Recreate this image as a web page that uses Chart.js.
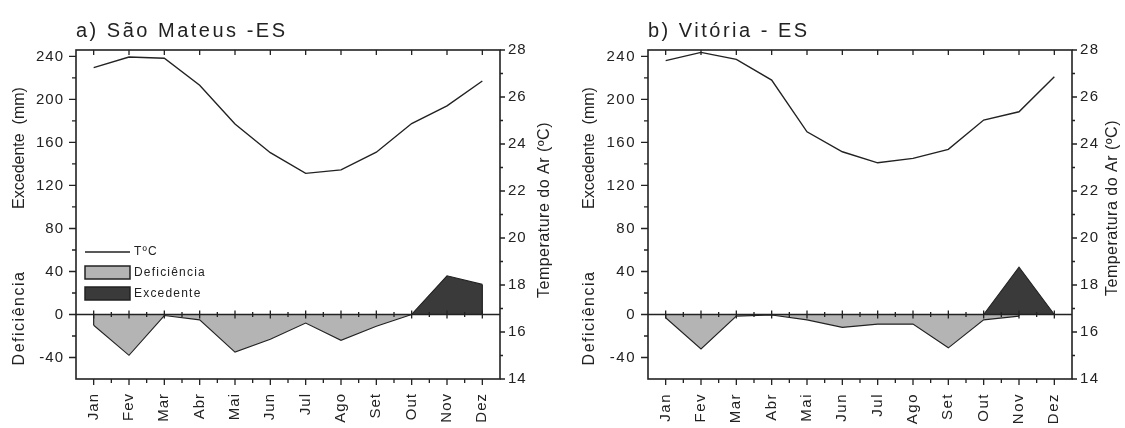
<!DOCTYPE html>
<html>
<head>
<meta charset="utf-8">
<script src="https://cdn.jsdelivr.net/npm/chart.js@4.4.1/dist/chart.umd.min.js"></script>
<style>
  body { margin: 0; background: #fff; width: 1125px; height: 428px; position: relative; overflow: hidden;
         font-family: 'Liberation Sans', Arial, sans-serif; }
  .panel { position: absolute; top: 0; height: 428px; }
  .ttl { position: absolute; top: 20px; font-size: 20px; line-height: 20px; letter-spacing: 2.5px;
         color: #222; white-space: nowrap; }
</style>
</head>
<body>
<div class="panel" style="left:0;width:562px">
  <canvas id="chartA" width="562" height="428"></canvas>
  <div class="ttl" style="left:76px">a) São Mateus -ES</div>
</div>
<div class="panel" style="left:562px;width:563px">
  <canvas id="chartB" width="563" height="428"></canvas>
  <div class="ttl" style="left:86px">b) Vitória - ES</div>
</div>
<script>
// === Balanço hídrico: São Mateus e Vitória ===
const months = ['Jan', 'Fev', 'Mar', 'Abr', 'Mai', 'Jun', 'Jul', 'Ago', 'Set', 'Out', 'Nov', 'Dez'];

// São Mateus - ES
const tempSM = [27.25, 27.7, 27.65, 26.5, 24.85, 23.63, 22.75, 22.9, 23.65, 24.87, 25.62, 26.68];
const defSM  = [-10, -38, -1, -5, -35, -23, -8, -24, -11, 0, null, null];
const excSM  = [null, null, null, null, null, null, null, null, null, 0, 36, 28];

// Vitória - ES
const tempVI = [27.55, 27.9, 27.6, 26.72, 24.52, 23.67, 23.2, 23.39, 23.77, 25.02, 25.37, 26.86];
const defVI  = [-3, -32, -1.5, -0.5, -5, -12, -9, -9, -31, -5, -1.5, null];
const excVI  = [null, null, null, null, null, null, null, null, null, 0, 44, 0];

// eixos
const leftMin = -60, leftMax = 246, leftStep = 40;
const tempMin = 14, tempMax = 28, tempStep = 2;

const INK = '#222';
const LIGHT = '#b4b4b4';
const DARK = '#3a3a3a';
const FONT = "'Liberation Sans', Arial, sans-serif";

// espaçamento das letras dos rótulos dos eixos
const textSpacing = {
  id: 'textSpacing',
  beforeDraw(chart, args, opts) {
    chart.ctx.letterSpacing = (opts.px || 0) + 'px';
  }
};

// moldura, linha do zero e todos os tracinhos dos eixos
const frameTicks = {
  id: 'frameTicks',
  afterDatasetsDraw(chart) {
    const { ctx, chartArea: a, scales } = chart;
    const x = scales.x, y = scales.y, t = scales.yT;
    const y0 = y.getPixelForValue(0);
    const seg = (x1, y1, x2, y2) => { ctx.moveTo(x1, y1); ctx.lineTo(x2, y2); };

    ctx.save();
    ctx.strokeStyle = INK;

    // bordas verticais das áreas (início/fim de cada série preenchida)
    ctx.lineWidth = 1.2;
    ctx.beginPath();
    chart.data.datasets.forEach((ds) => {
      if (!ds.fill) return;
      const idx = ds.data.map((v, i) => (v === null ? -1 : i)).filter((i) => i >= 0);
      [idx[0], idx[idx.length - 1]].forEach((i) => {
        if (ds.data[i] === 0) return;
        const px = x.getPixelForValue(i);
        seg(px, y.getPixelForValue(ds.data[i]), px, y0);
      });
    });
    ctx.stroke();

    ctx.lineWidth = 1.6;
    ctx.strokeRect(a.left, a.top, a.right - a.left, a.bottom - a.top);

    ctx.beginPath();
    seg(a.left, y0, a.right, y0);
    ctx.stroke();

    ctx.lineWidth = 1.3;
    ctx.beginPath();
    // meses: maiores no topo (para dentro), na base (para fora) e cruzando o zero
    for (let i = 0; i < months.length; i++) {
      const px = x.getPixelForValue(i);
      seg(px, a.top, px, a.top + 5);
      seg(px, a.bottom, px, a.bottom + 6);
      seg(px, y0 - 4, px, y0 + 4);
    }
    // intermediários entre meses
    for (let i = 1; i < months.length; i++) {
      const px = x.getPixelForValue(i - 0.5);
      seg(px, a.bottom, px, a.bottom + 4);
      seg(px, y0 - 2.5, px, y0 + 2.5);
    }
    // eixo esquerdo (mm)
    for (let v = -40; v <= 240; v += leftStep / 2) {
      const py = y.getPixelForValue(v);
      seg(a.left - (v % leftStep === 0 ? 7 : 4), py, a.left, py);
    }
    // eixo direito (ºC)
    for (let v = tempMin; v <= tempMax; v += tempStep / 2) {
      const py = t.getPixelForValue(v);
      seg(a.right, py, a.right + (v % tempStep === 0 ? 5 : 3), py);
    }
    ctx.stroke();
    ctx.restore();
  }
};

// títulos dos eixos desenhados na vertical
const axisTexts = {
  id: 'axisTexts',
  afterDraw(chart, args, opts) {
    const { ctx } = chart;
    (opts.items || []).forEach((it) => {
      ctx.save();
      ctx.translate(it.x, it.y);
      ctx.rotate(-Math.PI / 2);
      ctx.font = `${it.size || 16}px ${FONT}`;
      ctx.letterSpacing = (it.spacing || 0) + 'px';
      ctx.fillStyle = INK;
      ctx.textAlign = 'center';
      ctx.textBaseline = 'middle';
      ctx.fillText(it.text, 0, 0);
      ctx.restore();
    });
  }
};

// legenda dentro da área do gráfico
const boxLegend = {
  id: 'boxLegend',
  afterDraw(chart, args, opts) {
    if (!opts.show) return;
    const { ctx } = chart;
    const [tds, dds, eds] = chart.data.datasets;
    const x0 = opts.x, w = 45;
    ctx.save();
    ctx.strokeStyle = INK;
    ctx.lineWidth = 1.3;
    ctx.beginPath();
    ctx.moveTo(x0, opts.y);
    ctx.lineTo(x0 + w, opts.y);
    ctx.stroke();

    ctx.lineWidth = 1.5;
    [[dds, opts.y + 14], [eds, opts.y + 35]].forEach(([ds, by]) => {
      ctx.fillStyle = ds.backgroundColor;
      ctx.fillRect(x0, by, w, 13);
      ctx.strokeRect(x0, by, w, 13);
    });

    ctx.font = `12px ${FONT}`;
    ctx.letterSpacing = '1.2px';
    ctx.fillStyle = INK;
    ctx.textBaseline = 'middle';
    ctx.fillText(tds.label, x0 + w + 4, opts.y);
    ctx.fillText(dds.label, x0 + w + 4, opts.y + 20.5);
    ctx.fillText(eds.label, x0 + w + 4, opts.y + 41.5);
    ctx.restore();
  }
};

function makeChart(id, temp, def, exc, cfg) {
  const tickFont = { family: FONT, size: 15 };
  return new Chart(document.getElementById(id), {
    type: 'line',
    data: {
      labels: months,
      datasets: [
        { label: 'TºC', data: temp, yAxisID: 'yT', borderColor: INK, borderWidth: 1.4,
          pointRadius: 0, fill: false, tension: 0 },
        { label: 'Deficiência', data: def, yAxisID: 'y', borderColor: INK, borderWidth: 1.1,
          backgroundColor: LIGHT, pointRadius: 0, fill: 'origin', tension: 0 },
        { label: 'Excedente', data: exc, yAxisID: 'y', borderColor: INK, borderWidth: 1.1,
          backgroundColor: DARK, pointRadius: 0, fill: 'origin', tension: 0 }
      ]
    },
    options: {
      responsive: false,
      animation: false,
      layout: { padding: { top: 50, left: 0, right: 0, bottom: 0 } },
      scales: {
        x: {
          type: 'category', offset: true,
          grid: { display: false, drawTicks: false }, border: { display: false },
          ticks: { autoSkip: false, minRotation: 90, maxRotation: 90, padding: 14, color: INK, font: tickFont },
          afterFit(s) { s.height = 49; }
        },
        y: {
          type: 'linear', position: 'left', min: leftMin, max: leftMax,
          grid: { display: false, drawTicks: false }, border: { display: false },
          ticks: { stepSize: leftStep, includeBounds: false, padding: 12, color: INK, font: tickFont },
          afterFit(s) { s.width = cfg.leftW; }
        },
        yT: {
          type: 'linear', position: 'right', min: tempMin, max: tempMax,
          grid: { display: false, drawTicks: false }, border: { display: false },
          ticks: { stepSize: tempStep, padding: 8, color: INK, font: tickFont },
          afterFit(s) { s.width = cfg.rightW; }
        }
      },
      plugins: {
        legend: { display: false },
        tooltip: { enabled: false },
        textSpacing: { px: cfg.tickSpacing },
        axisTexts: { items: cfg.texts },
        boxLegend: { show: cfg.legend, x: 85, y: 252 }
      }
    },
    plugins: [textSpacing, frameTicks, axisTexts, boxLegend]
  });
}

makeChart('chartA', tempSM, defSM, excSM, {
  leftW: 76, rightW: 62, legend: true, tickSpacing: 1,
  texts: [
    { text: 'Excedente  (mm)', x: 20, y: 148 },
    { text: 'Deficiência', x: 20, y: 318, spacing: 1.5 },
    { text: 'Temperature do Ar (ºC)', x: 545, y: 210, spacing: 0.5 }
  ]
});

makeChart('chartB', tempVI, defVI, excVI, {
  leftW: 86, rightW: 53, legend: false, tickSpacing: 1.5,
  texts: [
    { text: 'Excedente  (mm)', x: 28, y: 148 },
    { text: 'Deficiência', x: 28, y: 318, spacing: 1.5 },
    { text: 'Temperatura do Ar (ºC)', x: 551, y: 208, spacing: 0.5 }
  ]
});
</script>
</body>
</html>
